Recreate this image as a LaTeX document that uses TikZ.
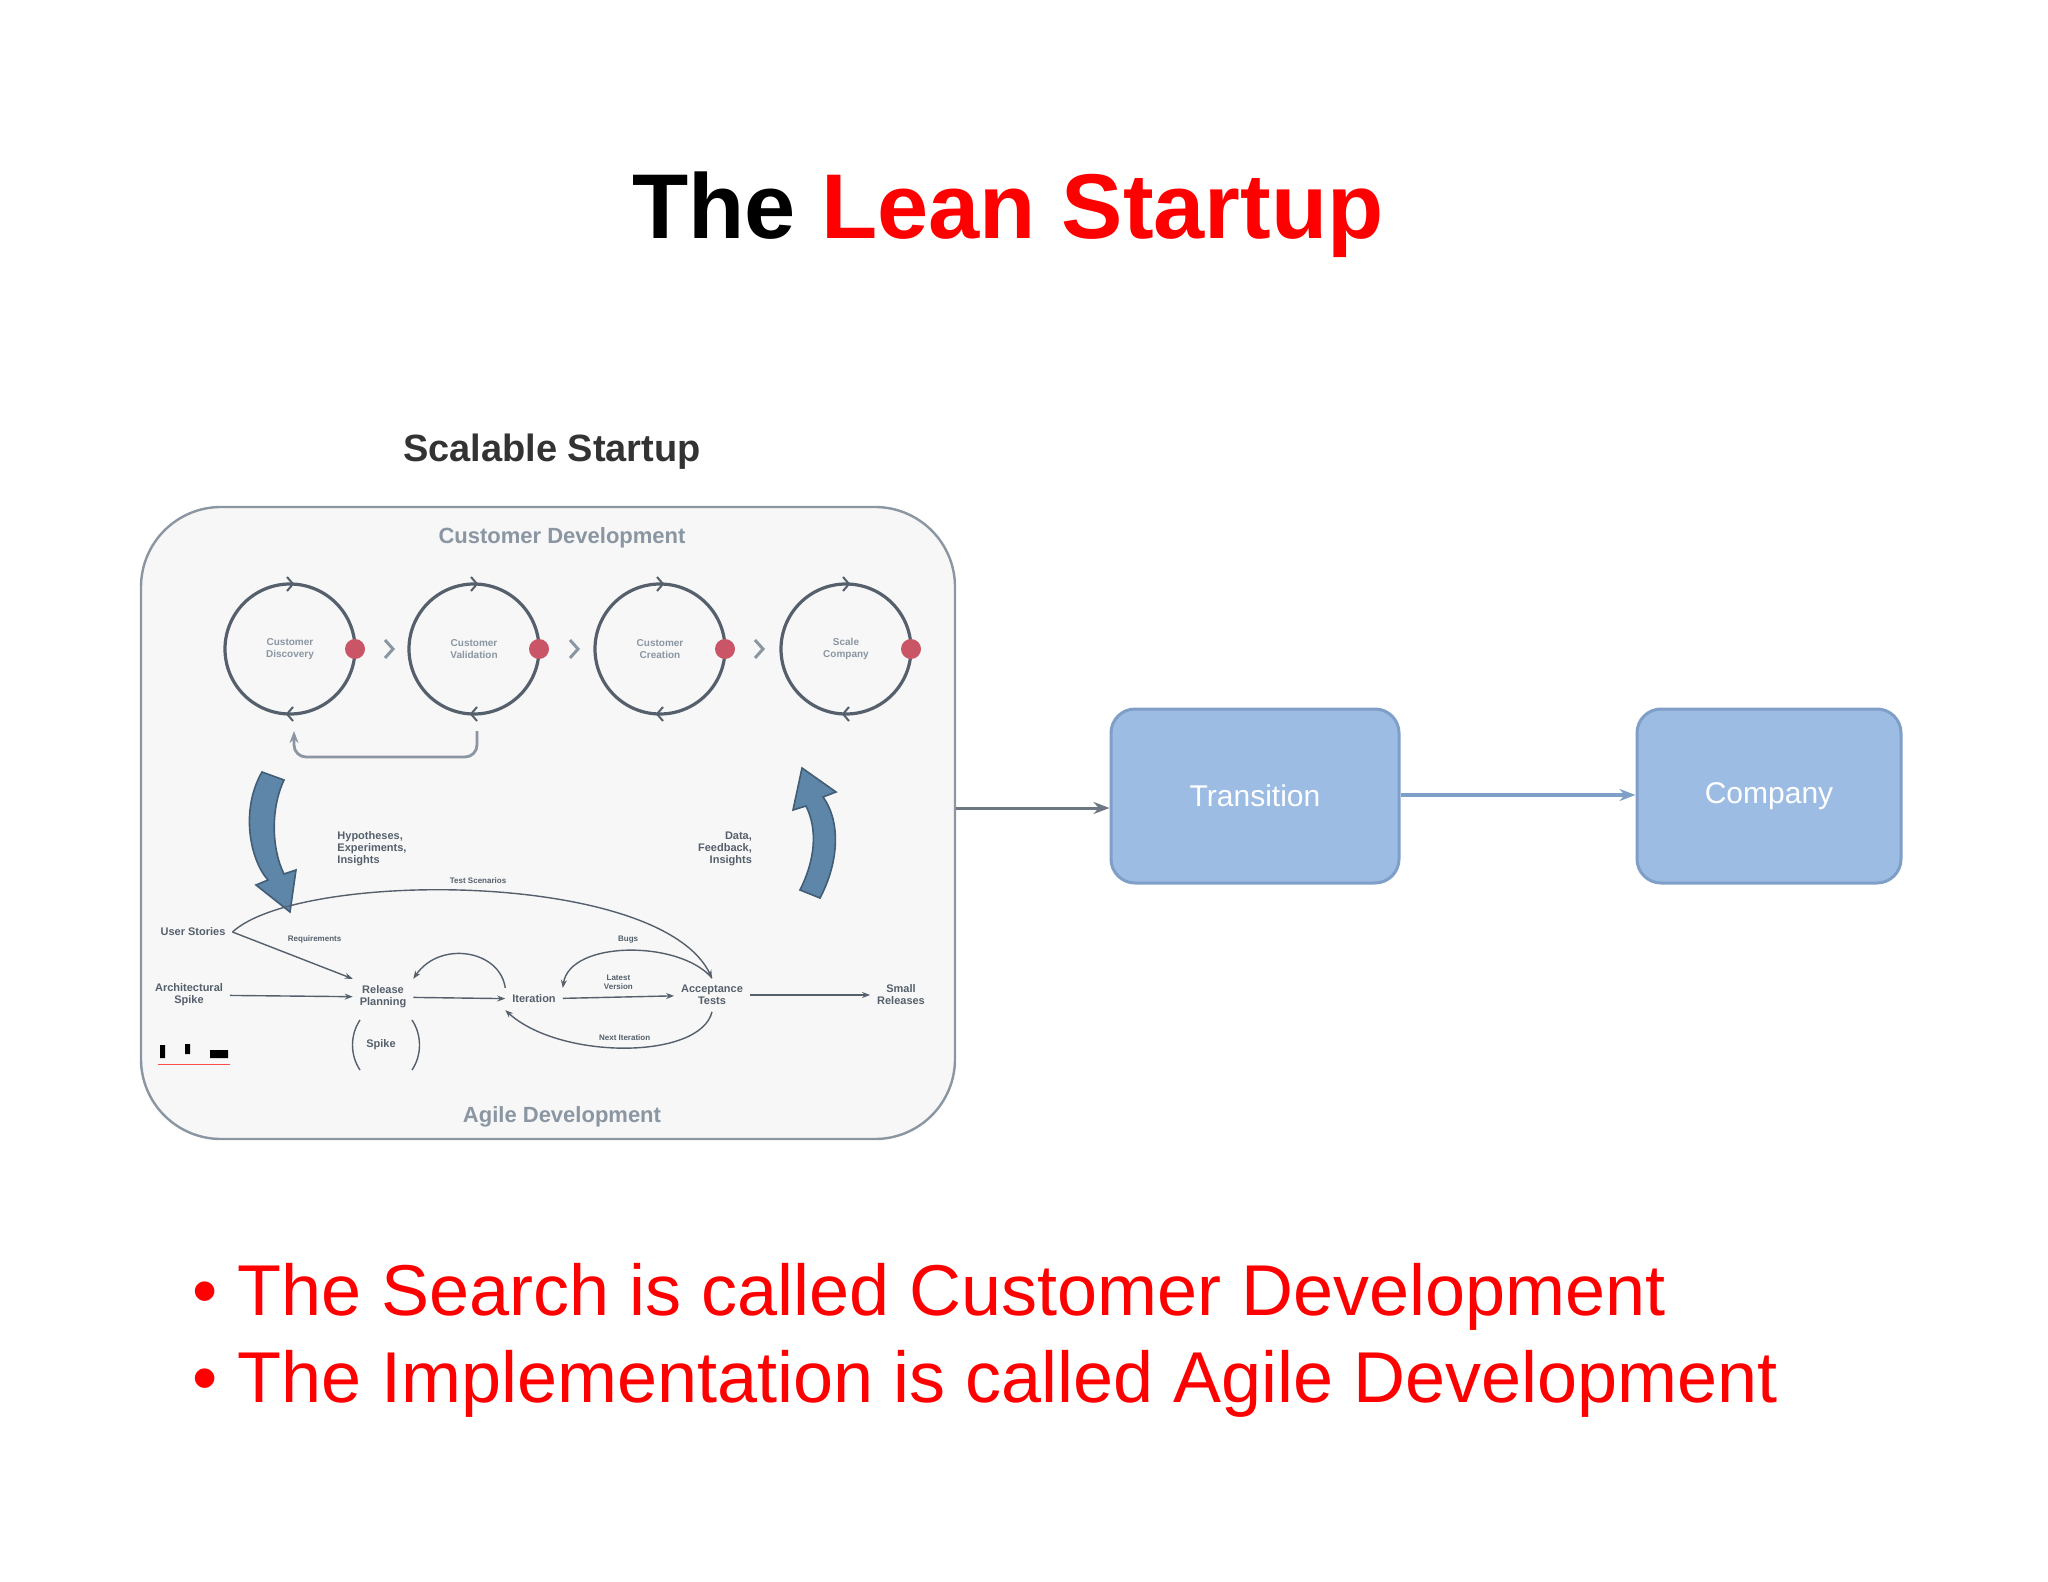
\documentclass[tikz,border=0pt]{standalone}
\usepackage{fontspec}
\setmainfont{Liberation Sans}
\usetikzlibrary{arrows.meta}
\definecolor{dg}{HTML}{55606C}
\definecolor{lg}{HTML}{8A96A2}
\definecolor{bx}{HTML}{9CBCE4}
\definecolor{bxd}{HTML}{7F9FC8}
\definecolor{rd}{HTML}{C95566}
\definecolor{bl}{HTML}{5E86A8}
\tikzset{
 tiny/.style={font=\fontsize{5.5}{6}\selectfont\bfseries, text=dg, align=center},
 cyc/.style={draw=dg, line width=1.6pt, circle, minimum size=65pt, font=\fontsize{5}{6}\selectfont\bfseries, text=lg, align=center},
 ar/.style={draw=dg, line width=0.7pt, -{Stealth[length=4pt]}},
 bigbox/.style={draw=bxd, line width=1.5pt, fill=bx, rounded corners=12pt, minimum height=87pt, text=white, font=\fontsize{15}{18}\selectfont},
 big/.style={draw=bl!70!black, fill=bl, line width=0.8pt}
}
\begin{document}
\begin{tikzpicture}[x=0.5pt,y=-0.5pt]
\useasboundingbox (0,0) rectangle (2048,1582);
\node[font=\fontsize{46}{52}\selectfont\bfseries] (title) at (1008,215) {The \textcolor{red}{Lean Startup}};
\node[font=\fontsize{19}{22}\selectfont\bfseries, text=black!80] (ss) at (552,452) {Scalable Startup};
\node[draw=lg, line width=1.2pt, fill=gray!6, rounded corners=40pt, minimum width=407pt, minimum height=316pt] (frame) at (548,823) {};
\node[font=\fontsize{11}{13}\selectfont\bfseries, text=lg] (cd) at (562,538) {Customer Development};
\node[font=\fontsize{11}{13}\selectfont\bfseries, text=lg] (ad) at (562,1117) {Agile Development};
\foreach \i/\x/\t in {1/290/Customer\\Discovery,2/474/Customer\\Validation,3/660/Customer\\Creation,4/846/Scale\\Company}{
 \node[cyc] (c\i) at (\x,649) {\t};
 \fill[rd] (\x+65,649) circle (5pt);
 \draw[dg, line width=1pt] (\x-3,577) -- (\x+3,584) -- (\x-3,591);
 \draw[dg, line width=1pt] (\x+3,707) -- (\x-3,714) -- (\x+3,721);
}
\foreach \x in {385,570,755}{\draw[lg, line width=1.5pt] (\x,640) -- (\x+8,649) -- (\x,658);}
\draw[lg, line width=1.4pt, rounded corners=6pt, -{Stealth[length=6pt, open]}] (477,731) -- (477,757) -- (294,757) -- (294,731);
\draw[big] (262,772) .. controls (240,810) and (250,860) .. (268,880) -- (256,885) -- (290,912) -- (296,870) -- (284,874) .. controls (272,850) and (270,810) .. (284,780) -- cycle;
\draw[big] (820,898) .. controls (840,860) and (840,820) .. (823,797) -- (836,792) -- (802,768) -- (793,810) -- (806,806) .. controls (818,830) and (815,860) .. (800,890) -- cycle;
\node[tiny, align=left] (hyp) at (372,849) {Hypotheses,\\Experiments,\\Insights};
\node[tiny, align=right] (dat) at (725,849) {Data,\\Feedback,\\Insights};
\node[tiny] (us) at (193,932) {User Stories};
\node[tiny] (as) at (189,995) {Architectural\\Spike};
\node[tiny] (rp) at (383,997) {Release\\Planning};
\node[tiny] (it) at (534,999) {Iteration};
\node[tiny] (at) at (712,995) {Acceptance\\Tests};
\node[tiny] (sr) at (901,995) {Small\\Releases};
\node[tiny] (sp) at (381,1045) {Spike};
\draw[ar] (as) -- (rp);
\draw[ar] (rp) -- (it);
\draw[ar] (it) -- node[above, tiny, font=\fontsize{4}{4.5}\selectfont\bfseries] {Latest\\Version} (at);
\draw[ar] (at) -- (sr);
\draw[ar] (us.east) -- node[above right, tiny, font=\fontsize{4}{5}\selectfont\bfseries, pos=0.4] {Requirements} (rp.north west);
\draw[ar] (us.east) .. controls (300,870) and (660,870) .. node[above, tiny, font=\fontsize{4}{5}\selectfont\bfseries] {Test Scenarios} (at.north);
\draw[ar] (it.north west) .. controls (500,950) and (440,940) .. (rp.north east);
\draw[ar] (at.north) .. controls (680,940) and (570,940) .. node[above, tiny, font=\fontsize{4}{5}\selectfont\bfseries] {Bugs} (it.north east);
\draw[ar] (at.south) .. controls (700,1060) and (560,1060) .. node[above, tiny, font=\fontsize{4}{5}\selectfont\bfseries] {Next Iteration} (it.south west);
\draw[dg, line width=0.7pt] (360,1020) .. controls (350,1035) and (350,1055) .. (360,1070);
\draw[dg, line width=0.7pt] (412,1020) .. controls (422,1035) and (422,1055) .. (412,1070);
\fill[black] (160,1045) rectangle (165,1058) (185,1044) rectangle (190,1054) (210,1050) rectangle (228,1058);
\draw[red!70, line width=0.5pt] (158,1064) -- (230,1064);
\node[bigbox, minimum width=144pt] (tr) at (1255,796) {Transition};
\node[bigbox, minimum width=132pt] (co) at (1769,796) {Company};
\draw[lg!80!black, line width=1.5pt, -{Stealth[length=8pt]}] (frame.east |- 0,808) -- (tr.west |- 0,808);
\draw[bxd, line width=2pt, -{Stealth[length=8pt]}] (tr.east |- 0,795) -- (co.west |- 0,795);
\node[anchor=west, text=red, font=\fontsize{36}{44}\selectfont, align=left] (b1) at (185,1297) {\textbullet\ The Search is called Customer Development};
\node[anchor=west, text=red, font=\fontsize{36}{44}\selectfont, align=left] (b2) at (185,1384) {\textbullet\ The Implementation is called Agile Development};
\end{tikzpicture}
\end{document}
